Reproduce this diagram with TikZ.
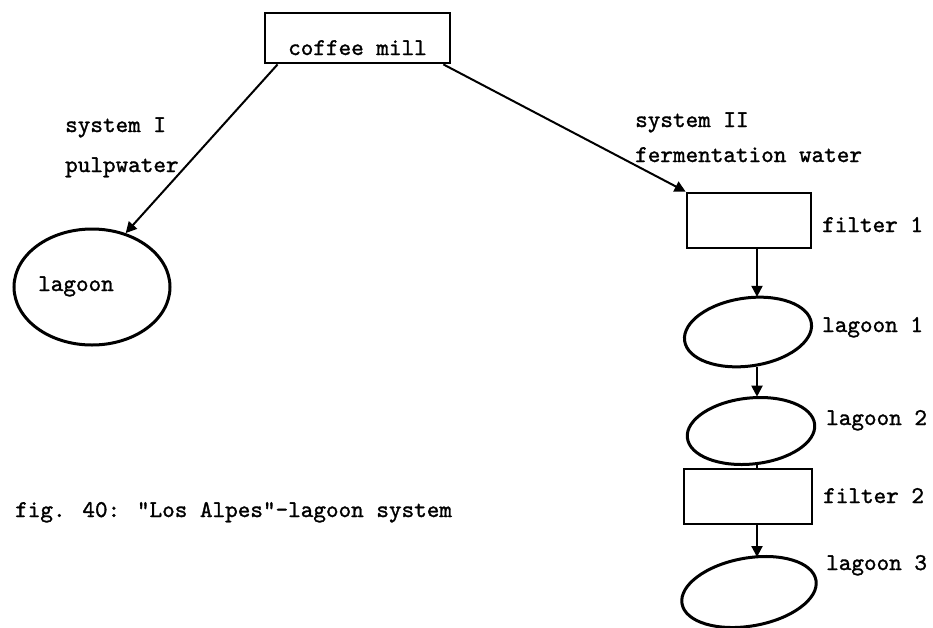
\documentclass[tikz,border=0pt]{standalone}
\usepackage{fontspec}
\newfontfamily\twfont{lmmono10-regular.otf}[FakeBold=1.3]
\usetikzlibrary{arrows.meta,shapes.geometric}
\begin{document}
\begin{tikzpicture}[x=1pt,y=-1pt,
  txt/.style={font=\fontsize{24}{28}\selectfont\twfont, inner sep=0pt, anchor=base west},
  boxnode/.style={draw, line width=2.8pt, rectangle, inner sep=0pt},
  pond/.style={draw, line width=3pt, ellipse, inner sep=0pt},
  arr/.style={line width=2pt, -{Triangle[length=11pt,width=11pt]}},
  plain/.style={line width=2pt}
  ]
\useasboundingbox (0,0) rectangle (933,627);
\fill[white] (0,0) rectangle (933,627);
% boxes
\node[boxnode, minimum width=185pt, text height=42pt, text depth=8pt, inner ysep=0pt,
      font=\fontsize{24}{28}\selectfont\twfont] (mill) at (357.5,38) {coffee mill};
\node[boxnode, minimum width=124pt, minimum height=55pt] (f1) at (749,220.5) {};
\node[boxnode, minimum width=128pt, minimum height=55pt] (f2) at (748,496.5) {};
% lagoons
\node[pond, minimum width=156pt, minimum height=116pt] (lag) at (92,287) {};
\node[pond, minimum width=128pt, minimum height=68pt, rotate=8] (l1) at (748,332) {};
\node[pond, minimum width=128pt, minimum height=66pt, rotate=6] (l2) at (751,431) {};
\node[pond, minimum width=136pt, minimum height=68pt, rotate=10] (l3) at (749,592) {};
% connectors
\coordinate (ax) at (757,0);
\draw[arr] ([xshift=14pt]mill.south west) -- (lag.58);
\draw[arr] ([xshift=-8pt]mill.south east) -- (f1.north west);
\draw[arr] (f1.south -| ax) -- (l1.north -| ax);
\draw[arr] (l1.south -| ax) -- (l2.north -| ax);
\draw[plain] (l2.south -| ax) -- (f2.north -| ax);
\draw[arr] (f2.south -| ax) -- (l3.north -| ax);
% labels
\node[txt] (s1) at (65,132) {system I};
\node[txt] (pw) at (65,172) {pulpwater};
\node[txt] (s2) at (635,127) {system II};
\node[txt] (fw) at (635,162) {fermentation water};
\node[txt] (lagt) at (38,291) {lagoon};
\node[txt] (f1t) at (822,232) {filter 1};
\node[txt] (l1t) at (822,332) {lagoon 1};
\node[txt] (l2t) at (826,425) {lagoon 2};
\node[txt] (f2t) at (823,503) {filter 2};
\node[txt] (l3t) at (826,570) {lagoon 3};
\node[txt] (cap) at (15,517) {fig. 40: "Los Alpes"-lagoon system};
\end{tikzpicture}
\end{document}
